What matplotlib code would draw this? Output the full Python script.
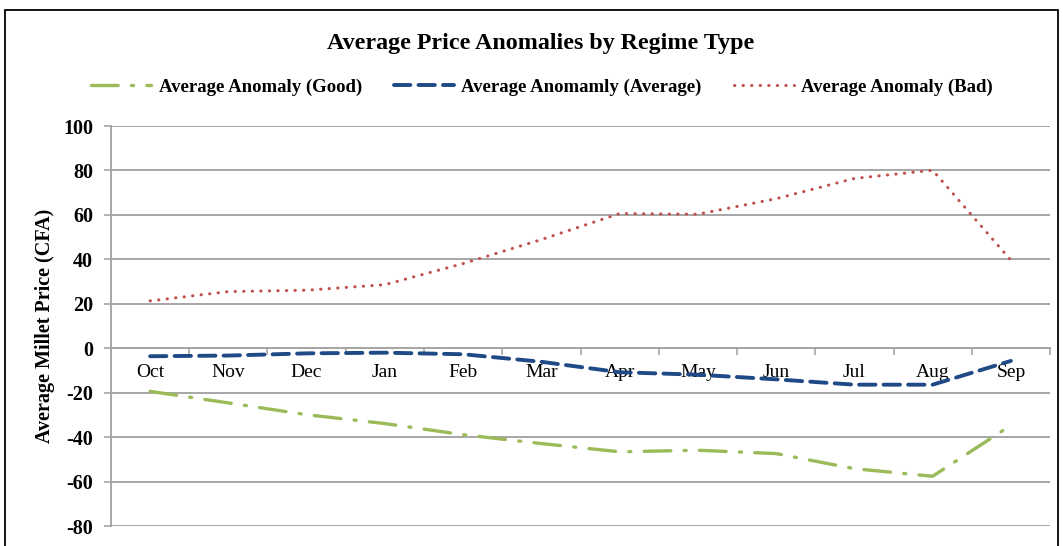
import matplotlib.pyplot as plt
from matplotlib.patches import Rectangle

# Monthly anomalies by regime type (CFA)
MONTHS = ["Oct", "Nov", "Dec", "Jan", "Feb", "Mar", "Apr", "May", "Jun", "Jul", "Aug", "Sep"]
GOOD = [-19.4, -24.6, -29.9, -33.9, -38.9, -42.9, -46.6, -45.9, -47.4, -54.2, -57.6, -34.7]
AVERAGE = [-3.6, -3.3, -2.3, -2.0, -2.7, -6.1, -10.8, -11.9, -14.0, -16.4, -16.4, -5.7]
BAD = [21.3, 25.5, 26.1, 28.6, 38.1, 48.9, 60.6, 60.3, 67.3, 76.4, 80.1, 39.6]
Y_TICKS = [100, 80, 60, 40, 20, 0, -20, -40, -60, -80]

GREEN = "#9bbb59"
BLUE = "#1f4a86"
RED = "#c0504d"
GRID = "#a6a6a6"
SERIF = ["Liberation Serif", "DejaVu Serif"]

plt.rcParams["font.family"] = SERIF

fig = plt.figure(figsize=(10.63, 5.46), dpi=100)
ax = fig.add_axes([0.1044, 0.0366, 0.9878 - 0.1044, 0.7692 - 0.0366])

x = list(range(len(MONTHS)))
ax.plot(x, GOOD, color=GREEN, linewidth=2.4, dashes=(8, 4, 0.6, 4),
        dash_capstyle="round", label="Average Anomaly (Good)", zorder=3)
ax.plot(x, AVERAGE, color=BLUE, linewidth=2.8, dashes=(4.2, 2.1),
        dash_capstyle="round", label="Average Anomamly (Average)", zorder=3)
ax.plot(x, BAD, color=RED, linewidth=2.2, dashes=(0.1, 2.7),
        dash_capstyle="round", label="Average Anomaly (Bad)", zorder=3)

ax.set_xlim(-0.5, len(MONTHS) - 0.5)
ax.set_ylim(-80, 100)
ax.set_yticks(Y_TICKS)
ax.set_yticklabels([str(v) for v in Y_TICKS], fontsize=14.5, fontweight="bold")
ax.yaxis.grid(True, color=GRID, linewidth=1.4)
ax.set_axisbelow(True)
ax.tick_params(axis="y", length=5, width=1.2, color=GRID, pad=8)

# category axis sits on the zero line, tick marks between months
ax.spines["bottom"].set_position(("data", 0))
ax.spines["bottom"].set_color(GRID)
ax.spines["bottom"].set_linewidth(1.4)
ax.set_xticks(x)
ax.set_xticklabels(MONTHS, fontsize=14)
ax.set_xticks([i + 0.5 for i in range(-1, len(MONTHS))], minor=True)
ax.tick_params(axis="x", which="major", length=0, pad=11)
ax.tick_params(axis="x", which="minor", length=5, width=1.2, color=GRID, direction="out")

ax.spines["left"].set_color(GRID)
ax.spines["left"].set_linewidth(1.4)
for side in ("top", "right"):
    ax.spines[side].set_visible(False)

ax.set_ylabel("Average Millet Price (CFA)", fontsize=14.5, fontweight="bold")
ax.yaxis.set_label_coords(-0.06, 0.5)

fig.suptitle("Average Price Anomalies by Regime Type", x=0.509, y=0.94,
             fontsize=17.3, fontweight="bold")
fig.legend(loc="center", bbox_to_anchor=(0.51, 0.84), ncol=3, frameon=False,
           prop={"family": SERIF, "size": 13.5, "weight": "bold"},
           handlelength=3.2, handletextpad=0.4, columnspacing=1.7)

# outer chart frame
fig.patches.append(Rectangle((0.005, -0.05), 0.99, 1.032, transform=fig.transFigure,
                             fill=False, edgecolor="black", linewidth=1.3))

fig.savefig("out.png", dpi=100)
